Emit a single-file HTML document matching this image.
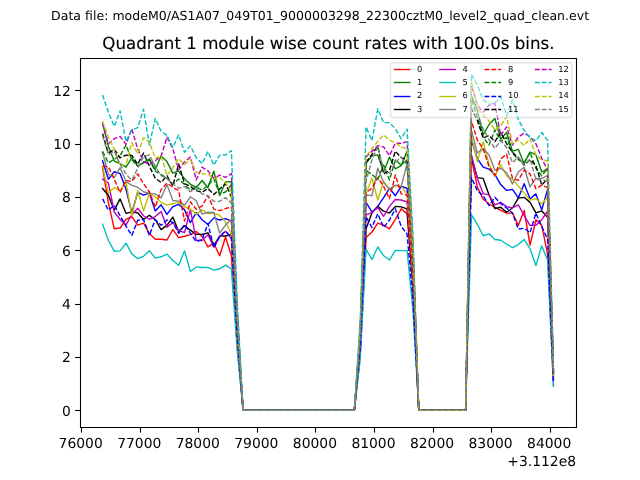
<!DOCTYPE html>
<html lang="en"><head><meta charset="utf-8"><title>Quadrant 1 module wise count rates</title>
<style>html,body{margin:0;padding:0;background:#fff;}body{width:640px;height:480px;overflow:hidden;}svg{display:block;will-change:transform;opacity:0.999;}text{font-family:"DejaVu Sans","Liberation Sans",sans-serif;fill:#000;text-rendering:geometricPrecision;}</style></head><body>
<svg width="640" height="480" viewBox="0 0 640 480">
<rect x="0" y="0" width="640" height="480" fill="#ffffff"/>
<defs><clipPath id="ax"><rect x="80.00" y="57.60" width="496.00" height="369.60"/></clipPath></defs>
<text x="320.1" y="19.9" font-size="12.5" text-anchor="middle" textLength="538" lengthAdjust="spacing">Data file: modeM0/AS1A07_049T01_9000003298_22300cztM0_level2_quad_clean.evt</text>
<text x="328.4" y="49.3" font-size="16.67" text-anchor="middle" stroke="#000" stroke-width="0.13">Quadrant 1 module wise count rates with 100.0s bins.</text>
<g clip-path="url(#ax)" fill="none" stroke-width="1.39" stroke-linejoin="round">
<polyline points="102.55,167.73 108.40,202.67 114.26,228.80 120.11,228.00 125.97,219.47 131.82,216.53 137.68,225.07 143.54,223.20 149.39,233.60 155.25,239.20 161.10,239.20 166.96,240.00 172.82,229.60 178.67,237.60 184.53,236.27 190.38,234.67 196.24,231.47 202.10,236.53 207.95,246.93 213.81,243.20 219.66,255.73 225.52,237.07 231.38,255.73 237.23,345.44 243.09,410.40 248.94,410.40 254.80,410.40 260.66,410.40 266.51,410.40 272.37,410.40 278.22,410.40 284.08,410.40 289.94,410.40 295.79,410.40 301.65,410.40 307.50,410.40 313.36,410.40 319.22,410.40 325.07,410.40 330.93,410.40 336.78,410.40 342.64,410.40 348.50,410.40 354.35,410.40 360.21,355.10 366.06,237.60 371.92,232.00 377.78,223.20 383.63,225.07 389.49,228.80 395.34,219.47 401.20,208.80 407.06,213.87 412.91,286.58 418.77,410.40 424.62,410.40 430.48,410.40 436.34,410.40 442.19,410.40 448.05,410.40 453.90,410.40 459.76,410.40 465.62,410.40 471.47,158.67 477.33,186.93 483.18,199.20 489.04,203.73 494.90,207.47 500.75,210.40 506.61,213.07 512.46,213.07 518.32,225.33 524.18,210.40 530.03,245.07 535.89,219.73 541.74,225.33 547.60,254.40 553.46,385.44" stroke="#ff0000" stroke-linecap="square"/>
<polyline points="102.55,123.20 108.40,146.40 114.26,161.07 120.11,163.73 125.97,167.20 131.82,157.87 137.68,165.87 143.54,162.93 149.39,158.93 155.25,169.60 161.10,156.00 166.96,161.60 172.82,173.07 178.67,171.20 184.53,178.67 190.38,184.27 196.24,187.47 202.10,180.53 207.95,187.73 213.81,171.20 219.66,195.47 225.52,181.87 231.38,181.60 237.23,314.30 243.09,410.40 248.94,410.40 254.80,410.40 260.66,410.40 266.51,410.40 272.37,410.40 278.22,410.40 284.08,410.40 289.94,410.40 295.79,410.40 301.65,410.40 307.50,410.40 313.36,410.40 319.22,410.40 325.07,410.40 330.93,410.40 336.78,410.40 342.64,410.40 348.50,410.40 354.35,410.40 360.21,331.30 366.06,163.20 371.92,155.73 377.78,154.93 383.63,172.00 389.49,157.07 395.34,168.80 401.20,165.60 407.06,151.20 412.91,247.10 418.77,410.40 424.62,410.40 430.48,410.40 436.34,410.40 442.19,410.40 448.05,410.40 453.90,410.40 459.76,410.40 465.62,410.40 471.47,96.00 477.33,110.13 483.18,134.93 489.04,124.53 494.90,118.40 500.75,139.20 506.61,132.53 512.46,151.20 518.32,149.33 524.18,163.73 530.03,152.00 535.89,154.93 541.74,172.00 547.60,168.80 553.46,371.74" stroke="#008000" stroke-linecap="square"/>
<polyline points="102.55,160.80 108.40,179.20 114.26,171.73 120.11,173.60 125.97,189.07 131.82,212.80 137.68,192.27 143.54,195.20 149.39,193.07 155.25,210.93 161.10,204.80 166.96,214.40 172.82,206.67 178.67,204.27 184.53,209.87 190.38,222.67 196.24,212.53 202.10,219.73 207.95,224.53 213.81,217.87 219.66,220.00 225.52,218.67 231.38,221.07 237.23,330.88 243.09,410.40 248.94,410.40 254.80,410.40 260.66,410.40 266.51,410.40 272.37,410.40 278.22,410.40 284.08,410.40 289.94,410.40 295.79,410.40 301.65,410.40 307.50,410.40 313.36,410.40 319.22,410.40 325.07,410.40 330.93,410.40 336.78,410.40 342.64,410.40 348.50,410.40 354.35,410.40 360.21,343.84 366.06,202.40 371.92,212.00 377.78,206.40 383.63,197.60 389.49,188.27 395.34,195.73 401.20,186.40 407.06,188.27 412.91,270.46 418.77,410.40 424.62,410.40 430.48,410.40 436.34,410.40 442.19,410.40 448.05,410.40 453.90,410.40 459.76,410.40 465.62,410.40 471.47,140.00 477.33,158.67 483.18,167.20 489.04,169.07 494.90,174.67 500.75,184.53 506.61,190.40 512.46,189.33 518.32,197.87 524.18,183.73 530.03,198.67 535.89,193.87 541.74,209.87 547.60,189.60 553.46,375.07" stroke="#0000ff" stroke-linecap="square"/>
<polyline points="102.55,188.53 108.40,195.20 114.26,210.13 120.11,198.93 125.97,213.33 131.82,212.00 137.68,212.80 143.54,219.47 149.39,215.20 155.25,219.73 161.10,229.60 166.96,225.33 172.82,217.07 178.67,231.47 184.53,225.87 190.38,230.13 196.24,234.40 202.10,234.40 207.95,232.80 213.81,245.33 219.66,236.00 225.52,236.00 231.38,234.67 237.23,336.59 243.09,410.40 248.94,410.40 254.80,410.40 260.66,410.40 266.51,410.40 272.37,410.40 278.22,410.40 284.08,410.40 289.94,410.40 295.79,410.40 301.65,410.40 307.50,410.40 313.36,410.40 319.22,410.40 325.07,410.40 330.93,410.40 336.78,410.40 342.64,410.40 348.50,410.40 354.35,410.40 360.21,352.29 366.06,228.80 371.92,213.07 377.78,206.40 383.63,211.20 389.49,213.07 395.34,206.40 401.20,206.93 407.06,208.80 412.91,283.39 418.77,410.40 424.62,410.40 430.48,410.40 436.34,410.40 442.19,410.40 448.05,410.40 453.90,410.40 459.76,410.40 465.62,410.40 471.47,157.07 477.33,177.60 483.18,178.40 489.04,194.93 494.90,208.53 500.75,207.20 506.61,212.27 512.46,208.00 518.32,198.13 524.18,197.33 530.03,202.40 535.89,212.80 541.74,210.93 547.60,217.33 553.46,379.51" stroke="#000000" stroke-linecap="square"/>
<polyline points="102.55,179.20 108.40,182.93 114.26,212.00 120.11,219.47 125.97,225.07 131.82,214.67 137.68,208.27 143.54,215.73 149.39,219.47 155.25,216.53 161.10,211.47 166.96,227.20 172.82,222.67 178.67,230.67 184.53,232.53 190.38,209.60 196.24,240.27 202.10,240.53 207.95,234.67 213.81,247.20 219.66,237.07 225.52,231.20 231.38,238.93 237.23,338.38 243.09,410.40 248.94,410.40 254.80,410.40 260.66,410.40 266.51,410.40 272.37,410.40 278.22,410.40 284.08,410.40 289.94,410.40 295.79,410.40 301.65,410.40 307.50,410.40 313.36,410.40 319.22,410.40 325.07,410.40 330.93,410.40 336.78,410.40 342.64,410.40 348.50,410.40 354.35,410.40 360.21,347.85 366.06,214.93 371.92,212.53 377.78,207.47 383.63,216.27 389.49,206.40 395.34,199.47 401.20,200.00 407.06,201.87 412.91,279.02 418.77,410.40 424.62,410.40 430.48,410.40 436.34,410.40 442.19,410.40 448.05,410.40 453.90,410.40 459.76,410.40 465.62,410.40 471.47,154.93 477.33,178.40 483.18,193.60 489.04,194.93 494.90,204.80 500.75,202.40 506.61,206.67 512.46,208.00 518.32,204.80 524.18,215.73 530.03,225.33 535.89,225.33 541.74,219.73 547.60,211.20 553.46,378.53" stroke="#bf00bf" stroke-linecap="square"/>
<polyline points="102.55,224.27 108.40,240.53 114.26,251.20 120.11,250.93 125.97,243.20 131.82,253.87 137.68,258.67 143.54,256.27 149.39,250.67 155.25,258.13 161.10,256.80 166.96,254.13 172.82,260.53 178.67,265.33 184.53,250.93 190.38,271.47 196.24,266.93 202.10,267.47 207.95,267.47 213.81,270.13 219.66,268.80 225.52,265.07 231.38,268.80 237.23,350.93 243.09,410.40 248.94,410.40 254.80,410.40 260.66,410.40 266.51,410.40 272.37,410.40 278.22,410.40 284.08,410.40 289.94,410.40 295.79,410.40 301.65,410.40 307.50,410.40 313.36,410.40 319.22,410.40 325.07,410.40 330.93,410.40 336.78,410.40 342.64,410.40 348.50,410.40 354.35,410.40 360.21,358.86 366.06,249.33 371.92,259.47 377.78,246.93 383.63,255.73 389.49,260.00 395.34,250.40 401.20,250.67 407.06,250.67 412.91,309.77 418.77,410.40 424.62,410.40 430.48,410.40 436.34,410.40 442.19,410.40 448.05,410.40 453.90,410.40 459.76,410.40 465.62,410.40 471.47,214.93 477.33,224.27 483.18,235.73 489.04,233.87 494.90,239.47 500.75,240.27 506.61,244.00 512.46,247.73 518.32,244.53 524.18,239.47 530.03,248.80 535.89,265.60 541.74,245.87 547.60,260.00 553.46,386.34" stroke="#00bfbf" stroke-linecap="square"/>
<polyline points="102.55,166.40 108.40,193.07 114.26,187.47 120.11,191.20 125.97,181.87 131.82,215.73 137.68,190.40 143.54,210.93 149.39,193.07 155.25,196.80 161.10,202.40 166.96,205.07 172.82,203.73 178.67,202.40 184.53,206.67 190.38,209.07 196.24,214.13 202.10,209.87 207.95,213.60 213.81,213.07 219.66,215.47 225.52,221.87 231.38,233.87 237.23,336.26 243.09,410.40 248.94,410.40 254.80,410.40 260.66,410.40 266.51,410.40 272.37,410.40 278.22,410.40 284.08,410.40 289.94,410.40 295.79,410.40 301.65,410.40 307.50,410.40 313.36,410.40 319.22,410.40 325.07,410.40 330.93,410.40 336.78,410.40 342.64,410.40 348.50,410.40 354.35,410.40 360.21,341.11 366.06,193.87 371.92,178.13 377.78,200.00 383.63,181.33 389.49,189.33 395.34,185.60 401.20,186.40 407.06,193.87 412.91,273.98 418.77,410.40 424.62,410.40 430.48,410.40 436.34,410.40 442.19,410.40 448.05,410.40 453.90,410.40 459.76,410.40 465.62,410.40 471.47,136.27 477.33,161.60 483.18,141.87 489.04,164.53 494.90,176.53 500.75,164.53 506.61,175.73 512.46,179.47 518.32,185.87 524.18,193.07 530.03,200.00 535.89,198.67 541.74,203.73 547.60,197.33 553.46,376.31" stroke="#bfbf00" stroke-linecap="square"/>
<polyline points="102.55,152.53 108.40,174.40 114.26,177.33 120.11,167.73 125.97,181.60 131.82,185.33 137.68,187.20 143.54,191.73 149.39,193.33 155.25,193.87 161.10,197.87 166.96,184.53 172.82,200.53 178.67,201.07 184.53,205.07 190.38,196.80 196.24,200.80 202.10,214.13 207.95,212.27 213.81,212.53 219.66,233.07 225.52,225.07 231.38,219.20 237.23,330.10 243.09,410.40 248.94,410.40 254.80,410.40 260.66,410.40 266.51,410.40 272.37,410.40 278.22,410.40 284.08,410.40 289.94,410.40 295.79,410.40 301.65,410.40 307.50,410.40 313.36,410.40 319.22,410.40 325.07,410.40 330.93,410.40 336.78,410.40 342.64,410.40 348.50,410.40 354.35,410.40 360.21,341.45 366.06,194.93 371.92,195.73 377.78,168.27 383.63,182.40 389.49,189.33 395.34,185.07 401.20,186.40 407.06,163.73 412.91,255.00 418.77,410.40 424.62,410.40 430.48,410.40 436.34,410.40 442.19,410.40 448.05,410.40 453.90,410.40 459.76,410.40 465.62,410.40 471.47,130.67 477.33,153.07 483.18,148.53 489.04,154.93 494.90,170.13 500.75,168.27 506.61,172.80 512.46,184.00 518.32,172.00 524.18,167.20 530.03,186.93 535.89,178.40 541.74,178.40 547.60,175.73 553.46,372.85" stroke="#808080" stroke-linecap="square"/>
<polyline points="102.55,166.40 108.40,166.67 114.26,179.20 120.11,192.53 125.97,180.27 131.82,181.60 137.68,173.87 143.54,183.73 149.39,191.73 155.25,207.20 161.10,189.60 166.96,183.20 172.82,187.20 178.67,190.67 184.53,221.07 190.38,201.87 196.24,209.33 202.10,205.87 207.95,195.73 213.81,209.07 219.66,210.67 225.52,208.53 231.38,206.93 237.23,324.94 243.09,410.40 248.94,410.40 254.80,410.40 260.66,410.40 266.51,410.40 272.37,410.40 278.22,410.40 284.08,410.40 289.94,410.40 295.79,410.40 301.65,410.40 307.50,410.40 313.36,410.40 319.22,410.40 325.07,410.40 330.93,410.40 336.78,410.40 342.64,410.40 348.50,410.40 354.35,410.40 360.21,340.68 366.06,192.53 371.92,188.27 377.78,177.60 383.63,186.40 389.49,198.67 395.34,174.93 401.20,193.87 407.06,194.93 412.91,274.66 418.77,410.40 424.62,410.40 430.48,410.40 436.34,410.40 442.19,410.40 448.05,410.40 453.90,410.40 459.76,410.40 465.62,410.40 471.47,121.33 477.33,140.00 483.18,149.07 489.04,166.40 494.90,175.73 500.75,158.93 506.61,154.13 512.46,178.40 518.32,180.27 524.18,170.13 530.03,173.87 535.89,188.80 541.74,185.07 547.60,187.73 553.46,374.77" stroke="#ff0000" stroke-dasharray="4.85 2.02" stroke-linecap="butt"/>
<polyline points="102.55,151.20 108.40,162.93 114.26,159.20 120.11,155.73 125.97,145.07 131.82,159.73 137.68,166.40 143.54,162.40 149.39,159.73 155.25,171.20 161.10,174.40 166.96,178.40 172.82,184.53 178.67,178.93 184.53,184.53 190.38,190.13 196.24,187.20 202.10,190.13 207.95,185.33 213.81,178.93 219.66,193.87 225.52,192.00 231.38,184.53 237.23,315.54 243.09,410.40 248.94,410.40 254.80,410.40 260.66,410.40 266.51,410.40 272.37,410.40 278.22,410.40 284.08,410.40 289.94,410.40 295.79,410.40 301.65,410.40 307.50,410.40 313.36,410.40 319.22,410.40 325.07,410.40 330.93,410.40 336.78,410.40 342.64,410.40 348.50,410.40 354.35,410.40 360.21,333.60 366.06,170.40 371.92,174.40 377.78,179.47 383.63,165.07 389.49,180.00 395.34,160.00 401.20,165.07 407.06,159.73 412.91,252.48 418.77,410.40 424.62,410.40 430.48,410.40 436.34,410.40 442.19,410.40 448.05,410.40 453.90,410.40 459.76,410.40 465.62,410.40 471.47,98.40 477.33,117.07 483.18,137.33 489.04,145.07 494.90,129.87 500.75,141.60 506.61,137.33 512.46,153.07 518.32,159.73 524.18,162.67 530.03,152.27 535.89,168.27 541.74,175.73 547.60,168.27 553.46,371.66" stroke="#008000" stroke-dasharray="4.85 2.02" stroke-linecap="butt"/>
<polyline points="102.55,198.93 108.40,210.13 114.26,205.33 120.11,215.73 125.97,226.13 131.82,235.47 137.68,220.27 143.54,219.47 149.39,235.47 155.25,219.47 161.10,225.33 166.96,220.00 172.82,222.40 178.67,233.33 184.53,224.53 190.38,233.33 196.24,241.60 202.10,239.47 207.95,223.47 213.81,247.73 219.66,236.00 225.52,231.20 231.38,237.07 237.23,337.60 243.09,410.40 248.94,410.40 254.80,410.40 260.66,410.40 266.51,410.40 272.37,410.40 278.22,410.40 284.08,410.40 289.94,410.40 295.79,410.40 301.65,410.40 307.50,410.40 313.36,410.40 319.22,410.40 325.07,410.40 330.93,410.40 336.78,410.40 342.64,410.40 348.50,410.40 354.35,410.40 360.21,348.45 366.06,216.80 371.92,227.47 377.78,213.87 383.63,227.47 389.49,220.00 395.34,208.80 401.20,226.40 407.06,233.87 412.91,299.18 418.77,410.40 424.62,410.40 430.48,410.40 436.34,410.40 442.19,410.40 448.05,410.40 453.90,410.40 459.76,410.40 465.62,410.40 471.47,177.60 477.33,190.67 483.18,195.73 489.04,205.60 494.90,197.33 500.75,203.73 506.61,208.00 512.46,213.07 518.32,229.07 524.18,228.27 530.03,232.80 535.89,213.07 541.74,226.40 547.60,239.47 553.46,383.05" stroke="#0000ff" stroke-dasharray="4.85 2.02" stroke-linecap="butt"/>
<polyline points="102.55,133.60 108.40,153.07 114.26,149.33 120.11,157.87 125.97,155.20 131.82,155.47 137.68,164.27 143.54,153.07 149.39,166.40 155.25,178.13 161.10,182.40 166.96,175.73 172.82,185.87 178.67,164.00 184.53,183.73 190.38,186.40 196.24,190.67 202.10,192.27 207.95,188.53 213.81,194.40 219.66,189.07 225.52,183.73 231.38,197.07 237.23,320.80 243.09,410.40 248.94,410.40 254.80,410.40 260.66,410.40 266.51,410.40 272.37,410.40 278.22,410.40 284.08,410.40 289.94,410.40 295.79,410.40 301.65,410.40 307.50,410.40 313.36,410.40 319.22,410.40 325.07,410.40 330.93,410.40 336.78,410.40 342.64,410.40 348.50,410.40 354.35,410.40 360.21,331.04 366.06,162.40 371.92,154.40 377.78,146.40 383.63,173.87 389.49,170.40 395.34,151.20 401.20,157.60 407.06,159.73 412.91,252.48 418.77,410.40 424.62,410.40 430.48,410.40 436.34,410.40 442.19,410.40 448.05,410.40 453.90,410.40 459.76,410.40 465.62,410.40 471.47,109.07 477.33,120.27 483.18,138.13 489.04,135.47 494.90,141.60 500.75,132.27 506.61,143.73 512.46,152.27 518.32,157.87 524.18,165.33 530.03,159.73 535.89,165.33 541.74,185.07 547.60,178.40 553.46,373.28" stroke="#000000" stroke-dasharray="4.85 2.02" stroke-linecap="butt"/>
<polyline points="102.55,123.20 108.40,143.73 114.26,138.67 120.11,136.53 125.97,144.27 131.82,128.80 137.68,149.07 143.54,161.60 149.39,164.53 155.25,160.80 161.10,156.27 166.96,137.07 172.82,148.80 178.67,169.87 184.53,161.87 190.38,157.07 196.24,180.00 202.10,167.20 207.95,170.93 213.81,178.40 219.66,175.20 225.52,177.33 231.38,173.60 237.23,310.94 243.09,410.40 248.94,410.40 254.80,410.40 260.66,410.40 266.51,410.40 272.37,410.40 278.22,410.40 284.08,410.40 289.94,410.40 295.79,410.40 301.65,410.40 307.50,410.40 313.36,410.40 319.22,410.40 325.07,410.40 330.93,410.40 336.78,410.40 342.64,410.40 348.50,410.40 354.35,410.40 360.21,329.33 366.06,157.07 371.92,151.20 377.78,145.60 383.63,146.93 389.49,155.73 395.34,143.20 401.20,143.20 407.06,141.87 412.91,241.22 418.77,410.40 424.62,410.40 430.48,410.40 436.34,410.40 442.19,410.40 448.05,410.40 453.90,410.40 459.76,410.40 465.62,410.40 471.47,85.60 477.33,105.33 483.18,112.00 489.04,105.33 494.90,103.47 500.75,135.47 506.61,126.93 512.46,145.07 518.32,137.07 524.18,133.07 530.03,136.80 535.89,143.73 541.74,158.40 547.60,170.13 553.46,371.96" stroke="#bf00bf" stroke-dasharray="4.85 2.02" stroke-linecap="butt"/>
<polyline points="102.55,94.93 108.40,112.27 114.26,126.40 120.11,110.93 125.97,141.33 131.82,130.13 137.68,127.73 143.54,109.33 149.39,145.07 155.25,118.40 161.10,131.20 166.96,135.47 172.82,147.47 178.67,134.93 184.53,152.27 190.38,145.87 196.24,157.60 202.10,163.73 207.95,151.47 213.81,165.07 219.66,155.20 225.52,154.93 231.38,150.67 237.23,301.31 243.09,410.40 248.94,410.40 254.80,410.40 260.66,410.40 266.51,410.40 272.37,410.40 278.22,410.40 284.08,410.40 289.94,410.40 295.79,410.40 301.65,410.40 307.50,410.40 313.36,410.40 319.22,410.40 325.07,410.40 330.93,410.40 336.78,410.40 342.64,410.40 348.50,410.40 354.35,410.40 360.21,319.69 366.06,126.93 371.92,140.53 377.78,108.80 383.63,122.67 389.49,122.67 395.34,128.80 401.20,138.67 407.06,129.07 412.91,233.16 418.77,410.40 424.62,410.40 430.48,410.40 436.34,410.40 442.19,410.40 448.05,410.40 453.90,410.40 459.76,410.40 465.62,410.40 471.47,74.40 477.33,84.80 483.18,99.73 489.04,104.53 494.90,102.67 500.75,96.80 506.61,115.73 512.46,99.73 518.32,119.47 524.18,130.67 530.03,137.60 535.89,140.80 541.74,132.53 547.60,140.53 553.46,367.22" stroke="#00bfbf" stroke-dasharray="4.85 2.02" stroke-linecap="butt"/>
<polyline points="102.55,121.33 108.40,137.07 114.26,149.07 120.11,165.07 125.97,165.07 131.82,142.67 137.68,153.87 143.54,137.60 149.39,141.87 155.25,158.40 161.10,156.00 166.96,175.20 172.82,167.73 178.67,158.67 184.53,164.53 190.38,159.47 196.24,172.27 202.10,173.87 207.95,173.87 213.81,178.93 219.66,177.07 225.52,183.20 231.38,191.73 237.23,318.56 243.09,410.40 248.94,410.40 254.80,410.40 260.66,410.40 266.51,410.40 272.37,410.40 278.22,410.40 284.08,410.40 289.94,410.40 295.79,410.40 301.65,410.40 307.50,410.40 313.36,410.40 319.22,410.40 325.07,410.40 330.93,410.40 336.78,410.40 342.64,410.40 348.50,410.40 354.35,410.40 360.21,329.08 366.06,156.27 371.92,148.80 377.78,141.33 383.63,134.93 389.49,140.00 395.34,142.67 401.20,146.93 407.06,148.80 412.91,245.59 418.77,410.40 424.62,410.40 430.48,410.40 436.34,410.40 442.19,410.40 448.05,410.40 453.90,410.40 459.76,410.40 465.62,410.40 471.47,81.07 477.33,108.27 483.18,114.67 489.04,121.33 494.90,129.87 500.75,125.87 506.61,116.53 512.46,143.73 518.32,140.00 524.18,145.60 530.03,138.67 535.89,155.47 541.74,159.73 547.60,160.80 553.46,370.46" stroke="#bfbf00" stroke-dasharray="4.85 2.02" stroke-linecap="butt"/>
<polyline points="102.55,135.73 108.40,154.93 114.26,151.20 120.11,164.53 125.97,173.87 131.82,180.27 137.68,168.27 143.54,156.53 149.39,154.93 155.25,166.40 161.10,175.73 166.96,178.40 172.82,183.73 178.67,188.27 184.53,186.40 190.38,191.73 196.24,189.07 202.10,193.87 207.95,195.73 213.81,201.33 219.66,201.33 225.52,197.60 231.38,203.20 237.23,323.38 243.09,410.40 248.94,410.40 254.80,410.40 260.66,410.40 266.51,410.40 272.37,410.40 278.22,410.40 284.08,410.40 289.94,410.40 295.79,410.40 301.65,410.40 307.50,410.40 313.36,410.40 319.22,410.40 325.07,410.40 330.93,410.40 336.78,410.40 342.64,410.40 348.50,410.40 354.35,410.40 360.21,337.01 366.06,181.07 371.92,160.00 377.78,146.40 383.63,170.40 389.49,173.07 395.34,162.40 401.20,157.07 407.06,165.07 412.91,255.84 418.77,410.40 424.62,410.40 430.48,410.40 436.34,410.40 442.19,410.40 448.05,410.40 453.90,410.40 459.76,410.40 465.62,410.40 471.47,105.33 477.33,113.87 483.18,128.80 489.04,139.73 494.90,148.53 500.75,140.53 506.61,147.47 512.46,162.67 518.32,157.07 524.18,165.33 530.03,158.93 535.89,179.47 541.74,179.47 547.60,181.33 553.46,373.75" stroke="#808080" stroke-dasharray="4.85 2.02" stroke-linecap="butt"/>
</g>
<g stroke="#000" stroke-width="1.1" fill="none" stroke-linecap="square">
<path d="M80.5 58.5V427.5M576.5 58.5V427.5M80.5 427.5H576.5M80.5 58.5H576.5"/>
</g>
<g stroke="#000" stroke-width="1.1">
<line x1="81.5" y1="427.2" x2="81.5" y2="432.6"/>
<line x1="140.5" y1="427.2" x2="140.5" y2="432.6"/>
<line x1="198.5" y1="427.2" x2="198.5" y2="432.6"/>
<line x1="257.5" y1="427.2" x2="257.5" y2="432.6"/>
<line x1="315.5" y1="427.2" x2="315.5" y2="432.6"/>
<line x1="374.5" y1="427.2" x2="374.5" y2="432.6"/>
<line x1="433.5" y1="427.2" x2="433.5" y2="432.6"/>
<line x1="491.5" y1="427.2" x2="491.5" y2="432.6"/>
<line x1="550.5" y1="427.2" x2="550.5" y2="432.6"/>
<line x1="75.1" y1="410.5" x2="80" y2="410.5"/>
<line x1="75.1" y1="357.5" x2="80" y2="357.5"/>
<line x1="75.1" y1="304.5" x2="80" y2="304.5"/>
<line x1="75.1" y1="250.5" x2="80" y2="250.5"/>
<line x1="75.1" y1="197.5" x2="80" y2="197.5"/>
<line x1="75.1" y1="144.5" x2="80" y2="144.5"/>
<line x1="75.1" y1="90.5" x2="80" y2="90.5"/>
</g>
<g font-size="13.89">
<text x="80.67" y="447.6" text-anchor="middle">76000</text>
<text x="139.23" y="447.6" text-anchor="middle">77000</text>
<text x="197.79" y="447.6" text-anchor="middle">78000</text>
<text x="256.35" y="447.6" text-anchor="middle">79000</text>
<text x="314.91" y="447.6" text-anchor="middle">80000</text>
<text x="373.47" y="447.6" text-anchor="middle">81000</text>
<text x="432.03" y="447.6" text-anchor="middle">82000</text>
<text x="490.59" y="447.6" text-anchor="middle">83000</text>
<text x="549.15" y="447.6" text-anchor="middle">84000</text>
<text x="70.8" y="415.65" text-anchor="end">0</text>
<text x="70.8" y="362.32" text-anchor="end">2</text>
<text x="70.8" y="308.98" text-anchor="end">4</text>
<text x="70.8" y="255.65" text-anchor="end">6</text>
<text x="70.8" y="202.32" text-anchor="end">8</text>
<text x="70.8" y="148.98" text-anchor="end">10</text>
<text x="70.8" y="95.65" text-anchor="end">12</text>
<text x="576" y="465.8" text-anchor="end">+3.112e8</text>
</g>
<rect x="390.5" y="62.7" width="181.5" height="54.8" rx="1.67" ry="1.67" fill="#ffffff" fill-opacity="0.5" stroke="#cccccc" stroke-opacity="0.5" stroke-width="1.39"/>
<g fill="none" stroke-width="1.39">
<line x1="393.80" y1="69.50" x2="410.47" y2="69.50" stroke="#ff0000"/>
<line x1="393.80" y1="82.50" x2="410.47" y2="82.50" stroke="#008000"/>
<line x1="393.80" y1="96.50" x2="410.47" y2="96.50" stroke="#0000ff"/>
<line x1="393.80" y1="109.50" x2="410.47" y2="109.50" stroke="#000000"/>
<line x1="439.20" y1="69.50" x2="455.87" y2="69.50" stroke="#bf00bf"/>
<line x1="439.20" y1="82.50" x2="455.87" y2="82.50" stroke="#00bfbf"/>
<line x1="439.20" y1="96.50" x2="455.87" y2="96.50" stroke="#bfbf00"/>
<line x1="439.20" y1="109.50" x2="455.87" y2="109.50" stroke="#808080"/>
<line x1="484.50" y1="69.50" x2="501.17" y2="69.50" stroke="#ff0000" stroke-dasharray="4.85 2.02"/>
<line x1="484.50" y1="82.50" x2="501.17" y2="82.50" stroke="#008000" stroke-dasharray="4.85 2.02"/>
<line x1="484.50" y1="96.50" x2="501.17" y2="96.50" stroke="#0000ff" stroke-dasharray="4.85 2.02"/>
<line x1="484.50" y1="109.50" x2="501.17" y2="109.50" stroke="#000000" stroke-dasharray="4.85 2.02"/>
<line x1="534.90" y1="69.50" x2="551.57" y2="69.50" stroke="#bf00bf" stroke-dasharray="4.85 2.02"/>
<line x1="534.90" y1="82.50" x2="551.57" y2="82.50" stroke="#00bfbf" stroke-dasharray="4.85 2.02"/>
<line x1="534.90" y1="96.50" x2="551.57" y2="96.50" stroke="#bfbf00" stroke-dasharray="4.85 2.02"/>
<line x1="534.90" y1="109.50" x2="551.57" y2="109.50" stroke="#808080" stroke-dasharray="4.85 2.02"/>
</g>
<g font-size="8.33">
<text x="417.10" y="72.13">0</text>
<text x="417.10" y="85.30">1</text>
<text x="417.10" y="98.47">2</text>
<text x="417.10" y="111.63">3</text>
<text x="462.50" y="72.13">4</text>
<text x="462.50" y="85.30">5</text>
<text x="462.50" y="98.47">6</text>
<text x="462.50" y="111.63">7</text>
<text x="507.90" y="72.13">8</text>
<text x="507.90" y="85.30">9</text>
<text x="507.90" y="98.47">10</text>
<text x="507.90" y="111.63">11</text>
<text x="558.20" y="72.13">12</text>
<text x="558.20" y="85.30">13</text>
<text x="558.20" y="98.47">14</text>
<text x="558.20" y="111.63">15</text>
</g>
</svg></body></html>
